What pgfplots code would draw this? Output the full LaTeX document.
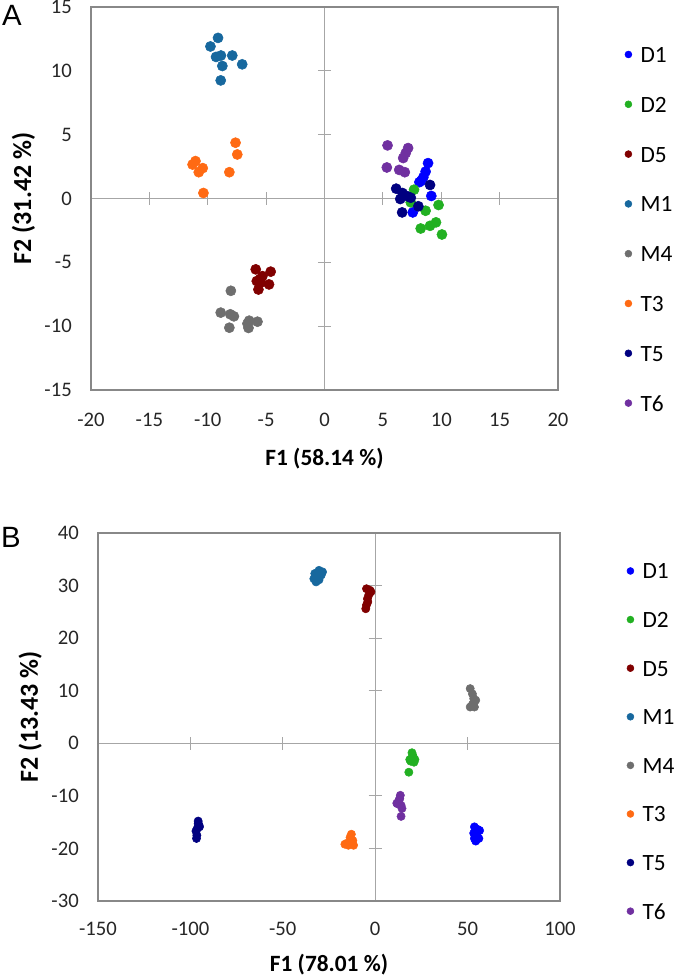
\documentclass[border=0pt]{standalone}
\usepackage{fontspec}
\setmainfont{Carlito}
\newfontfamily\arialf{Liberation Sans}
\usepackage{pgfplots}
\pgfplotsset{compat=1.18}
\definecolor{cD1}{HTML}{0000FF}
\definecolor{cD2}{HTML}{22B022}
\definecolor{cD5}{HTML}{800000}
\definecolor{cM1}{HTML}{17689E}
\definecolor{cM4}{HTML}{6E6E6E}
\definecolor{cT3}{HTML}{FF6A13}
\definecolor{cT5}{HTML}{000080}
\definecolor{cT6}{HTML}{7030A0}
\definecolor{framec}{HTML}{888888}
\definecolor{zeroc}{HTML}{A6A6A6}
\pgfplotsset{
 zerolines/.style={scale only axis, enlargelimits=false, axis lines=middle,
   axis line style={-, zeroc, line width=0.9pt}, tick style={zeroc, line width=0.9pt},
   major tick length=9.75pt, tick align=center, xticklabels={}, yticklabels={}},
 mainax/.style={scale only axis, enlargelimits=false,
   axis line style={framec, line width=1.6pt}, major tick length=0pt, tick style={draw=none},
   /pgf/number format/assume math mode=true,
   ticklabel style={font=\fontsize{15.5}{17}\selectfont, text=black!85},
   yticklabel style={inner sep=0pt, xshift=-14.25pt},
   xlabel style={anchor=center, font=\bfseries\fontsize{17.5}{19}\selectfont},
   ylabel style={anchor=center, font=\bfseries\fontsize{19.5}{21}\selectfont},
   legend cell align=left,
   legend image code/.code={\draw[#1, mark size=2.6pt] plot coordinates {(0pt,0pt)};},
 },
 dot/.style={only marks, mark=*, color=#1, mark size=3.8pt},
 dotb/.style={only marks, mark=*, color=#1, mark size=3.1pt},
}
\begin{document}
\begin{tikzpicture}
\path[use as bounding box] (0,0) rectangle (507.75pt,734.25pt);
% ---------- Panel A ----------
\begin{axis}[zerolines, at={(68.25pt,441.75pt)}, anchor=south west,
  width=350.25pt, height=287.25pt, xmin=-20, xmax=20, ymin=-15, ymax=15,
  xtick={-20,-15,...,20}, ytick={-15,-10,...,15}]
\end{axis}
\begin{axis}[mainax, at={(68.25pt,441.75pt)}, anchor=south west,
  width=350.25pt, height=287.25pt, xmin=-20, xmax=20, ymin=-15, ymax=15,
  xtick={-20,-15,...,20}, ytick={-15,-10,...,15},
  xticklabel style={inner sep=0pt, yshift=-17.25pt},
  xlabel={F1 (58.14 \%)}, ylabel={F2 (31.42 \%)},
  xlabel style={at={(axis description cs:0.5,-0.179)}},
  ylabel style={at={(axis description cs:-0.1445,0.5)}},
  legend style={at={(1.1428,0.8976)}, anchor=north west, draw=none, fill=none,
    inner xsep=0pt, inner ysep=0pt, row sep=25.35pt, column sep=6.5pt,
    nodes={inner sep=0pt, text height=12pt, text depth=0pt, font=\fontsize{17.5}{19}\selectfont}}]
\addplot[dot=cD1] coordinates {(8.87,2.77)(8.66,2.11)(8.47,1.67)(8.13,1.28)(8.3,1.4)(9.15,0.2)(7.56,-1.09)};
\addplot[dot=cD2] coordinates {(7.67,0.69)(7.39,-0.3)(8.66,-0.96)(9.77,-0.51)(8.24,-2.35)(9.04,-2.14)(9.55,-1.87)(10.06,-2.82)};
\addplot[dot=cD5] coordinates {(-5.89,-5.55)(-4.61,-5.73)(-5.32,-6.08)(-5.80,-6.47)(-5.46,-6.6)(-4.75,-6.73)(-5.66,-7.13)(-5.5,-6.3)};
\addplot[dot=cM1] coordinates {(-9.12,12.58)(-9.77,11.91)(-9.29,11.09)(-8.87,11.2)(-7.90,11.2)(-7.05,10.51)(-8.75,10.38)(-8.89,9.25)};
\addplot[dot=cM4] coordinates {(-8.02,-7.23)(-8.89,-8.94)(-8.07,-9.07)(-7.76,-9.23)(-8.15,-10.12)(-6.45,-9.57)(-5.74,-9.65)(-6.51,-10.14)(-6.6,-9.8)};
\addplot[dot=cT3] coordinates {(-7.62,4.37)(-7.47,3.45)(-11.05,2.93)(-11.3,2.66)(-10.43,2.38)(-10.77,2.06)(-8.15,2.06)(-10.37,0.43)};
\addplot[dot=cT5] coordinates {(6.14,0.77)(6.68,0.43)(9.04,1.06)(6.49,-0.04)(7.39,0.06)(8.04,-0.61)(6.65,-1.09)(7.11,0.17)};
\addplot[dot=cT6] coordinates {(5.40,4.16)(7.16,3.95)(6.96,3.56)(6.74,3.17)(5.34,2.43)(6.40,2.24)(6.88,2.06)};
\legend{D1,D2,D5,M1,M4,T3,T5,T6}
\end{axis}
% ---------- Panel B ----------
\begin{axis}[zerolines, at={(73.5pt,58.5pt)}, anchor=south west,
  width=346.5pt, height=276pt, xmin=-150, xmax=100, ymin=-30, ymax=40,
  xtick={-150,-100,...,100}, ytick={-30,-20,...,40}]
\end{axis}
\begin{axis}[mainax, at={(73.5pt,58.5pt)}, anchor=south west,
  width=346.5pt, height=276pt, xmin=-150, xmax=100, ymin=-30, ymax=40,
  xtick={-150,-100,...,100}, ytick={-30,-20,...,40},
  xticklabel style={inner sep=0pt, yshift=-15.75pt},
  xlabel={F1 (78.01 \%)}, ylabel={F2 (13.43 \%)},
  xlabel style={at={(axis description cs:0.5,-0.174)}},
  ylabel style={at={(axis description cs:-0.147,0.5)}},
  legend style={at={(1.1444,0.9193)}, anchor=north west, draw=none, fill=none,
    inner xsep=0pt, inner ysep=0pt, row sep=24.45pt, column sep=6.5pt,
    nodes={inner sep=0pt, text height=12pt, text depth=0pt, font=\fontsize{17.5}{19}\selectfont}}]
\addplot[dotb=cD1] coordinates {(53.7,-15.9)(55.6,-16.4)(56.5,-16.6)(53.3,-17.1)(54.9,-17.5)(53.7,-18.1)(56.1,-18.1)(54.4,-18.6)};
\addplot[dotb=cD2] coordinates {(19.9,-1.8)(20.6,-2.6)(18.7,-3.1)(21.0,-3.6)(19.2,-3.4)(18.2,-5.5)(20.3,-2.3)(21.5,-3.1)};
\addplot[dotb=cD5] coordinates {(-4.7,29.4)(-2.8,29.1)(-3.5,28.2)(-4.2,27.5)(-4.7,26.3)(-5.1,25.6)(-4.0,26.9)(-2.3,28.8)};
\addplot[dotb=cM1] coordinates {(-30.4,32.9)(-28.5,32.6)(-32.7,32.3)(-31.5,31.6)(-30.4,31.1)(-32.0,30.7)(-29.2,32.0)(-33.2,31.3)};
\addplot[dotb=cM4] coordinates {(51.4,10.4)(52.6,9.4)(53.3,8.5)(53.7,7.9)(51.4,6.9)(53.7,6.9)(52.6,7.4)(54.4,8.2)};
\addplot[dotb=cT3] coordinates {(-12.9,-17.3)(-13.6,-17.9)(-12.1,-18.5)(-16.4,-19.2)(-14.5,-19.4)(-11.7,-19.4)(-13.1,-18.8)(-15.2,-19.0)};
\addplot[dotb=cT5] coordinates {(-95.8,-14.8)(-95.3,-15.6)(-96.3,-16.2)(-95.1,-15.9)(-97.0,-16.7)(-96.5,-17.5)(-96.7,-18.1)(-95.8,-15.3)};
\addplot[dotb=cT6] coordinates {(13.6,-9.9)(12.9,-10.8)(12.1,-11.5)(14.0,-11.8)(11.7,-11.4)(14.5,-12.4)(14.0,-13.9)(13.3,-10.5)};
\legend{D1,D2,D5,M1,M4,T3,T5,T6}
\end{axis}
\node[font=\arialf\fontsize{22}{24}\selectfont] at (9pt,723pt) {A};
\node[font=\arialf\fontsize{22}{24}\selectfont] at (8.25pt,331.1pt) {B};
\end{tikzpicture}
\end{document}
